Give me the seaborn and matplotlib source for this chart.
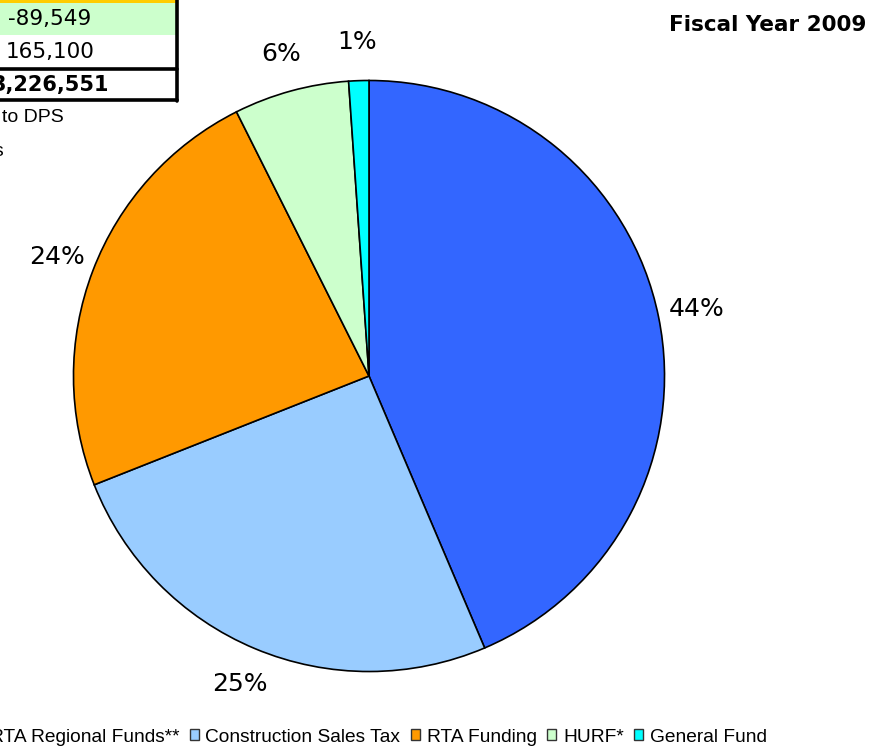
import matplotlib
matplotlib.use("Agg")
import matplotlib.pyplot as plt
from matplotlib.patches import Patch, Rectangle
import seaborn as sns

# Fiscal Year 2009 funding sources (share of total, %)
sources = ["RTA Regional Funds**", "Construction Sales Tax", "RTA Funding", "HURF*", "General Fund"]
shares = [43.6, 25.4, 23.6, 6.3, 1.1]
colors = ["#3366FF", "#99CCFF", "#FF9900", "#CCFFCC", "#00FFFF"]

# bits of the summary table left of the pie (mostly cut off)
table_values = ["-89,549", "165,100", "3,226,551"]
table_fills = ["#CCFFCC", "white", "white"]
footnotes = ["* HURF transferred to DPS", "** Includes RTA Regional Funds"]

sns.set_theme(style="white")
plt.rcParams["font.family"] = ["DejaVu Sans"]
plt.rcParams["text.color"] = "black"

fig = plt.figure(figsize=(8.88, 7.5), dpi=100)

# overlay in pixel coordinates for the table / notes
ov = fig.add_axes([0, 0, 1, 1])
ov.set_xlim(0, 888)
ov.set_ylim(750, 0)
ov.axis("off")

ov.add_patch(Rectangle((-20, -5), 197, 8, facecolor="#FFCC00", edgecolor="none"))
row_top = [3, 35, 69]
row_h = [32, 34, 31]
for i, val in enumerate(table_values):
    ov.add_patch(Rectangle((-20, row_top[i]), 197, row_h[i], facecolor=table_fills[i], edgecolor="none"))
    ov.text(50, row_top[i] + row_h[i] / 2, val, ha="center", va="center",
            fontsize=15.5 if i < 2 else 15, fontweight="bold" if i == 2 else "normal",
            color="black")
ov.plot([-5, 177], [68.5, 68.5], color="black", lw=2.6)
ov.plot([-5, 177], [100, 100], color="black", lw=2.6)
ov.plot([176.5, 176.5], [0, 101], color="black", lw=2.6)

ov.text(64, 118, footnotes[0], ha="right", va="center", fontsize=14,
        family="Liberation Sans", color="black")
ov.text(4, 152, footnotes[1], ha="right", va="center", fontsize=14,
        family="Liberation Sans", color="black")

ov.text(866, 25, "Fiscal Year 2009", ha="right", va="center", fontsize=15.5,
        fontweight="bold", color="black")

# pie
ax = fig.add_axes([72 / 888, 77 / 750, 594 / 888, 594 / 750])
wedges, texts, autotexts = ax.pie(
    shares, colors=colors, startangle=90, counterclock=False,
    autopct="%1.0f%%", pctdistance=1.13,
    wedgeprops=dict(edgecolor="black", linewidth=1.2),
    textprops=dict(fontsize=18, color="black"),
)
ax.set_xlim(-1.005, 1.005)
ax.set_ylim(-1.005, 1.005)
ax.set_aspect("equal")

handles = [Patch(facecolor=c, edgecolor="#333333", linewidth=1.0) for c in colors]
fig.legend(handles, sources, loc="center right", bbox_to_anchor=(767 / 888, 1 - 737 / 750),
           ncol=5, frameon=False, handlelength=0.46, handleheight=0.46,
           handletextpad=0.36, columnspacing=0.55, borderpad=0, borderaxespad=0,
           labelcolor="black", prop={"family": "Liberation Sans", "size": 13.8})

fig.savefig("out.png", dpi=100)
